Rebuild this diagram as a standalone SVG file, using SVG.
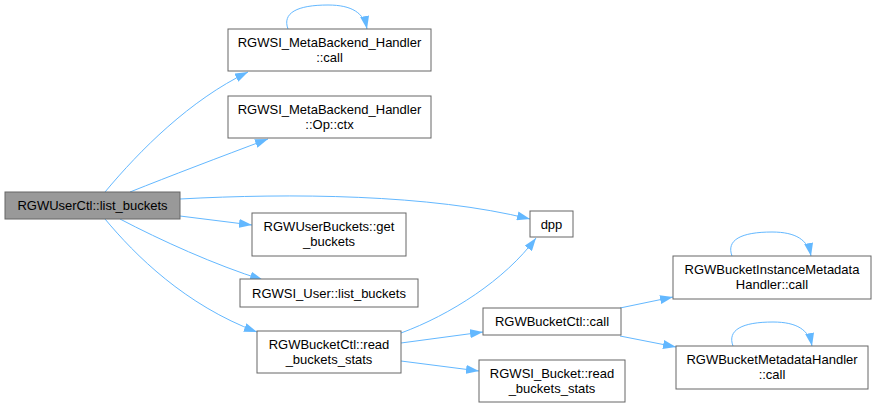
<svg xmlns="http://www.w3.org/2000/svg" width="876" height="408" viewBox="0 0 876 408">
<style>
.n rect{fill:#ffffff;stroke:#666666;stroke-width:1}
.n text{font-family:"Liberation Sans",Arial,sans-serif;font-size:13px;fill:#000000;text-anchor:middle}
#n_list rect{fill:#999999}
.e path{fill:none;stroke:#63b8ff;stroke-width:1;marker-end:url(#ah)}
</style>
<defs>
<marker id="ah" viewBox="0 0 13 9" refX="13" refY="4.5" markerWidth="13" markerHeight="9" markerUnits="userSpaceOnUse" orient="auto">
<path d="M0,0 L13,4.5 L0,9 z" fill="#63b8ff"/>
</marker>
</defs>
<rect width="876" height="408" fill="#ffffff"/>
<g id="edges" class="e">
<path d="M105,192 C140,150 190,100 248,72"/>
<path d="M130,192 C170,176 220,157 268,139"/>
<path d="M180,199 C290,193 430,194 530,219"/>
<path d="M180,216 L252,225"/>
<path d="M120,219 C160,240 215,265 263,280"/>
<path d="M105,219 C135,255 185,305 257,332"/>
<path d="M401,333 C450,315 505,280 536,238"/>
<path d="M401,343 L483,332"/>
<path d="M401,361 L479,371"/>
<path d="M620,308 L673,297"/>
<path d="M620,336 L676,347"/>
<path d="M288,29 C282,13 297,5 328,5 C352,5 364,13 367,29"/>
<path d="M732,256 C726,240 741,232 772,232 C796,232 808,240 811,256"/>
<path d="M733,346 C727,330 742,322 773,322 C797,322 809,330 812,346"/>
</g>
<g id="n_list" class="n"><rect x="5" y="192" width="175" height="27"/><text x="92.5" y="210">RGWUserCtl::list_buckets</text></g>
<g id="n_mbcall" class="n"><rect x="228" y="29" width="203" height="42"/><text x="329.5" y="47">RGWSI_MetaBackend_Handler</text><text x="329.5" y="62">::call</text></g>
<g id="n_ctx" class="n"><rect x="228" y="96" width="203" height="42"/><text x="329.5" y="114">RGWSI_MetaBackend_Handler</text><text x="329.5" y="129">::Op::ctx</text></g>
<g id="n_dpp" class="n"><rect x="530" y="211" width="43" height="26"/><text x="551.5" y="228.5">dpp</text></g>
<g id="n_getb" class="n"><rect x="252" y="213" width="154" height="43"/><text x="329" y="231">RGWUserBuckets::get</text><text x="329" y="246">_buckets</text></g>
<g id="n_user" class="n"><rect x="240" y="279" width="178" height="28"/><text x="329" y="297.5">RGWSI_User::list_buckets</text></g>
<g id="n_rbs" class="n"><rect x="257" y="331" width="144" height="42"/><text x="329" y="349">RGWBucketCtl::read</text><text x="329" y="364">_buckets_stats</text></g>
<g id="n_bcall" class="n"><rect x="483" y="308" width="138" height="27"/><text x="552" y="325.5">RGWBucketCtl::call</text></g>
<g id="n_sbucket" class="n"><rect x="479" y="360" width="146" height="42"/><text x="552" y="378">RGWSI_Bucket::read</text><text x="552" y="393">_buckets_stats</text></g>
<g id="n_inst" class="n"><rect x="673" y="256" width="198" height="43"/><text x="772" y="274">RGWBucketInstanceMetadata</text><text x="772" y="289">Handler::call</text></g>
<g id="n_bmeta" class="n"><rect x="676" y="346" width="192" height="43"/><text x="772" y="364">RGWBucketMetadataHandler</text><text x="772" y="379">::call</text></g>
</svg>
